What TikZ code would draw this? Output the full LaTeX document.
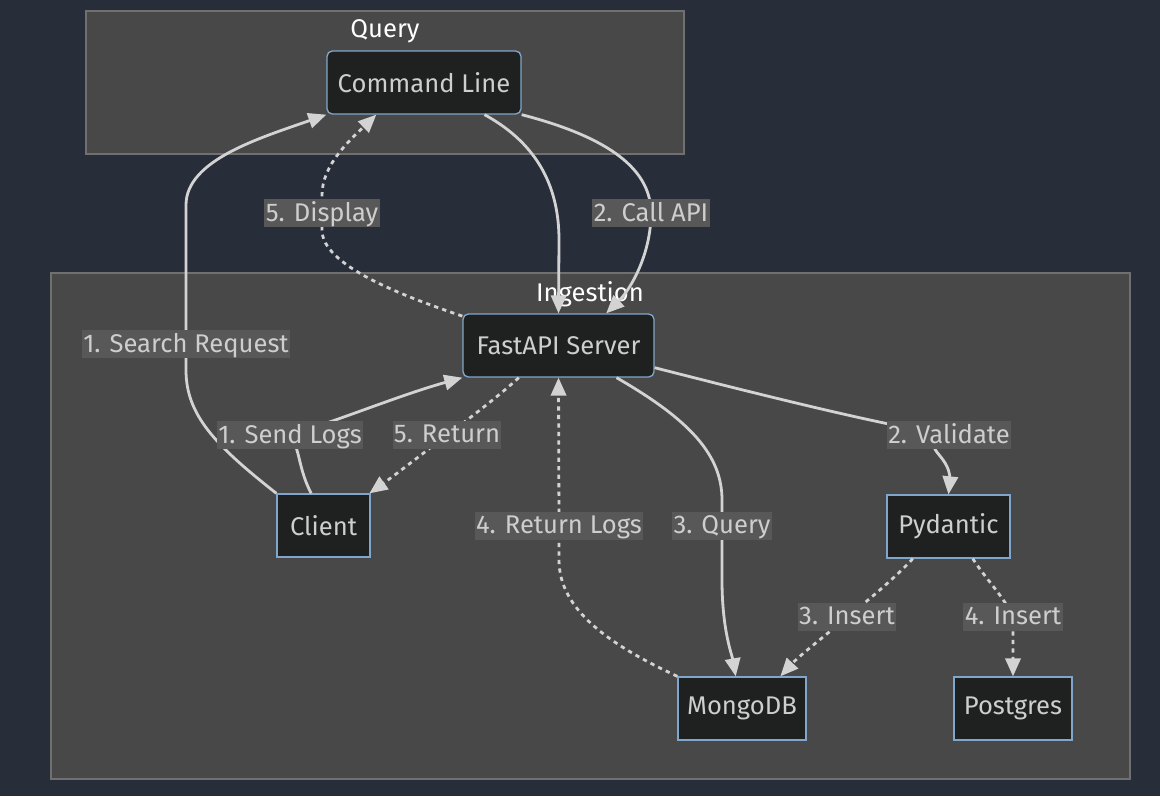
\documentclass[tikz,border=0pt]{standalone}
\usepackage{fontspec}
\setmainfont{Fira Sans}
\usepackage{tikz}
\usetikzlibrary{arrows.meta}

\definecolor{bgcol}{RGB}{40,45,58}
\definecolor{clusterfill}{RGB}{72,72,72}
\definecolor{clusterline}{RGB}{112,112,112}
\definecolor{nodefill}{RGB}{31,32,32}
\definecolor{nodeline}{RGB}{129,166,204}
\definecolor{lblfill}{RGB}{88,88,88}
\definecolor{txt}{RGB}{206,206,206}
\definecolor{edgecol}{RGB}{211,211,211}

\newcommand{\labelsize}{\fontsize{19.2}{23}\selectfont}

\begin{document}
\begin{tikzpicture}[x=0.75pt, y=-0.75pt,
  box/.style={draw=nodeline, fill=nodefill, text=txt, line width=1pt,
    inner sep=0pt, minimum height=47.25pt, font=\labelsize},
  roundbox/.style={box, rounded corners=4pt},
  cluster/.style={draw=clusterline, fill=clusterfill, line width=0.8pt},
  title/.style={text=white, font=\labelsize, yshift=-2pt},
  edge/.style={draw=edgecol, line width=2.1pt,
    -{Triangle[length=13.5pt, width=11.5pt]}},
  dotted edge/.style={dash pattern=on 3.2pt off 3.2pt},
  lbl/.style={fill=lblfill, text=txt, font=\labelsize, inner xsep=1pt,
    inner ysep=0pt, minimum height=21pt, text depth=2pt}]
  \useasboundingbox (0,0) rectangle (1160,796);
  \fill[bgcol] (0,0) rectangle (1160,796);

  % subgraphs
  \draw[cluster] (86,11) rectangle (684,154);
  \node[title] (tquery) at (385,29) {Query};
  \draw[cluster] (51,273) rectangle (1130,779);
  \node[title] (tingest) at (590,292) {Ingestion};

  % nodes
  \node[roundbox, minimum width=145.5pt] (cmd) at (424,82.5) {Command Line};
  \node[roundbox, minimum width=143.25pt] (fast) at (558.5,345.5) {FastAPI Server};
  \node[box, minimum width=69.75pt] (client) at (323.5,525.5) {Client};
  \node[box, minimum width=92.25pt] (pyd) at (948.5,526.5) {Pydantic};
  \node[box, minimum width=96pt] (mongo) at (742,708.5) {MongoDB};
  \node[box, minimum width=88.5pt] (pos) at (1013,708.5) {Postgres};

  % solid edges
  \draw[edge] (client.north west) .. controls (215,445) and (186,415) .. (186,370)
    -- (186,344) node[lbl] (lsearch) {1. Search Request}
    -- (186,205) .. controls (186,160) and (260,138) .. (cmd.south west);
  \draw[edge] (client.111) .. controls (298,468) and (300,448) .. (290,435)
    node[lbl] (lsend) {1. Send Logs}
    .. controls (340,420) and (400,395) .. (fast.south west);
  \draw[edge] (cmd.332) .. controls (540,145) and (559,190) .. (559,240) -- (fast.north);
  \draw[edge] (cmd.south east) .. controls (600,135) and (651,165) .. (651,213)
    node[lbl] (lcall) {2. Call API}
    .. controls (651,255) and (630,290) .. (fast.34);
  \draw[edge] (fast.331) .. controls (690,420) and (722,455) .. (722,500)
    -- (722,526) node[lbl] (lquery) {3. Query}
    -- (722,580) .. controls (722,630) and (732,655) .. (mongo.101);
  \draw[edge] (fast.347) .. controls (750,392) and (880,425) .. (949,435)
    node[lbl] (lvalid) {2. Validate}
    .. controls (915,448) and (950,452) .. (950,480) -- (pyd.north);

  % dotted edges
  \draw[edge, dotted edge] (fast.163) .. controls (400,295) and (322,265) .. (322,230)
    -- (322,213) node[lbl] (ldisp) {5. Display}
    -- (322,195) .. controls (322,165) and (350,140) .. (cmd.214);
  \draw[edge, dotted edge] (fast.219) .. controls (500,395) and (470,418) .. (447,435)
    node[lbl] (lret) {5. Return}
    .. controls (425,452) and (395,475) .. (client.35);
  \draw[edge, dotted edge] (mongo.north west) .. controls (610,645) and (559,610) .. (559,560)
    -- (559,526) node[lbl] (lrlogs) {4. Return Logs} -- (fast.south);
  \draw[edge, dotted edge] (pyd.222) .. controls (895,578) and (865,603) .. (847,617)
    node[lbl] (lins3) {3. Insert}
    .. controls (830,632) and (800,655) .. (mongo.40);
  \draw[edge, dotted edge] (pyd.307) .. controls (985,578) and (1005,598) .. (1013,617)
    node[lbl] (lins4) {4. Insert}
    .. controls (1013,635) and (1013,650) .. (pos.north);
\end{tikzpicture}
\end{document}
